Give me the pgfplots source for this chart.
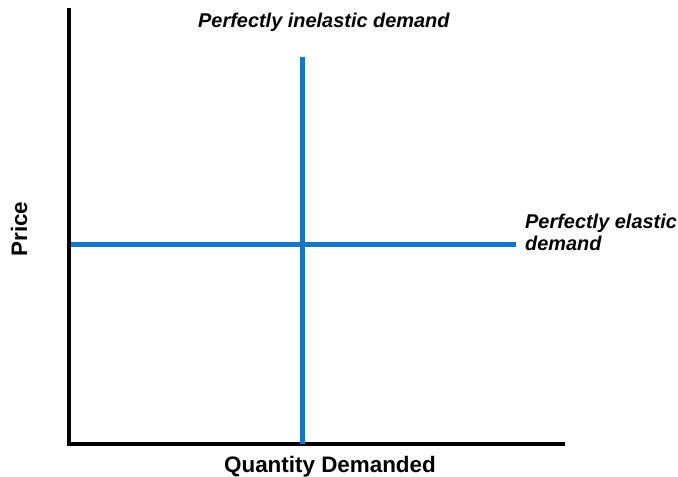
\documentclass[border=0pt]{standalone}
\usepackage{pgfplots}
\pgfplotsset{compat=1.18}
\usepackage{fontspec}
\setmainfont{Liberation Sans}
\definecolor{lineblue}{RGB}{20,118,196}
\begin{document}
\begin{tikzpicture}
\useasboundingbox (-69bp,-33bp) rectangle (609bp,444bp);
\begin{axis}[
  at={(0,0)}, anchor=origin,
  x=1bp, y=1bp,
  xmin=0, xmax=494, ymin=0, ymax=434,
  axis lines=left,
  axis line style={-, line width=4bp, black, line cap=rect},
  xtick=\empty, ytick=\empty,
  clip=false,
]
\addplot[lineblue, line width=5bp, line cap=butt] coordinates {(233.5,0) (233.5,387)};
\addplot[lineblue, line width=5bp, line cap=butt] coordinates {(2,200) (447,200)};
\node[anchor=base west, font=\fontsize{20}{24}\selectfont\bfseries\itshape, inner sep=0pt] at (axis cs:129,417) {Perfectly inelastic demand};
\node[anchor=base west, font=\fontsize{20}{24}\selectfont\bfseries\itshape, inner sep=0pt] at (axis cs:456,216) {Perfectly elastic};
\node[anchor=base west, font=\fontsize{20}{24}\selectfont\bfseries\itshape, inner sep=0pt] at (axis cs:456,194) {demand};
\node[anchor=base, font=\fontsize{22.5}{26}\selectfont\bfseries, inner sep=0pt] at (axis cs:261,-28) {Quantity Demanded};
\node[anchor=base, rotate=90, font=\fontsize{22.5}{26}\selectfont\bfseries, inner sep=0pt] at (axis cs:-42,215) {Price};
\end{axis}
\end{tikzpicture}
\end{document}
